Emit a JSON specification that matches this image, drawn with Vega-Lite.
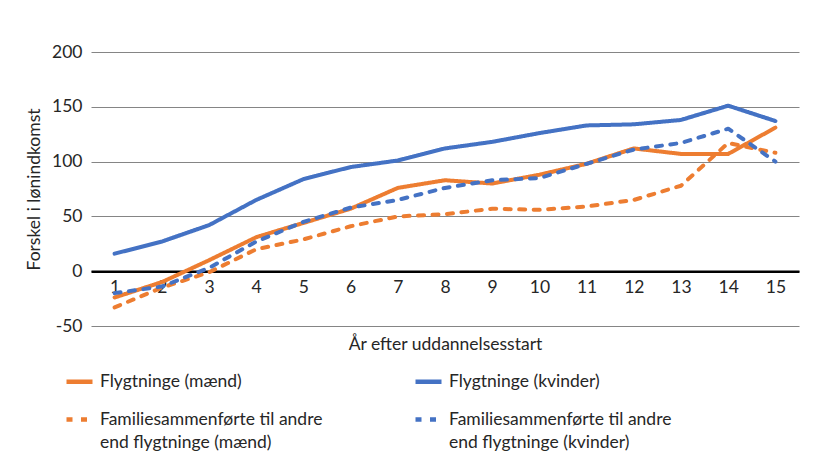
{
  "$schema": "https://vega.github.io/schema/vega-lite/v6.json",
  "autosize": "none",
  "width": 708,
  "height": 274,
  "padding": {"left": 91, "top": 52, "right": 17, "bottom": 149},
  "background": "white",
  "config": {
    "font": "Lato",
    "view": {"stroke": null},
    "style": {"guide-label": {"lineHeight": 23}}
  },
  "data": {
    "values": [
      {"year": 1, "serie": "Flygtninge (mænd)", "value": -24},
      {"year": 2, "serie": "Flygtninge (mænd)", "value": -10},
      {"year": 3, "serie": "Flygtninge (mænd)", "value": 10},
      {"year": 4, "serie": "Flygtninge (mænd)", "value": 31},
      {"year": 5, "serie": "Flygtninge (mænd)", "value": 44},
      {"year": 6, "serie": "Flygtninge (mænd)", "value": 57},
      {"year": 7, "serie": "Flygtninge (mænd)", "value": 76},
      {"year": 8, "serie": "Flygtninge (mænd)", "value": 83},
      {"year": 9, "serie": "Flygtninge (mænd)", "value": 80},
      {"year": 10, "serie": "Flygtninge (mænd)", "value": 88},
      {"year": 11, "serie": "Flygtninge (mænd)", "value": 98},
      {"year": 12, "serie": "Flygtninge (mænd)", "value": 112},
      {"year": 13, "serie": "Flygtninge (mænd)", "value": 107},
      {"year": 14, "serie": "Flygtninge (mænd)", "value": 107},
      {"year": 15, "serie": "Flygtninge (mænd)", "value": 131},
      {"year": 1, "serie": "Flygtninge (kvinder)", "value": 16},
      {"year": 2, "serie": "Flygtninge (kvinder)", "value": 27},
      {"year": 3, "serie": "Flygtninge (kvinder)", "value": 42},
      {"year": 4, "serie": "Flygtninge (kvinder)", "value": 65},
      {"year": 5, "serie": "Flygtninge (kvinder)", "value": 84},
      {"year": 6, "serie": "Flygtninge (kvinder)", "value": 95},
      {"year": 7, "serie": "Flygtninge (kvinder)", "value": 101},
      {"year": 8, "serie": "Flygtninge (kvinder)", "value": 112},
      {"year": 9, "serie": "Flygtninge (kvinder)", "value": 118},
      {"year": 10, "serie": "Flygtninge (kvinder)", "value": 126},
      {"year": 11, "serie": "Flygtninge (kvinder)", "value": 133},
      {"year": 12, "serie": "Flygtninge (kvinder)", "value": 134},
      {"year": 13, "serie": "Flygtninge (kvinder)", "value": 138},
      {"year": 14, "serie": "Flygtninge (kvinder)", "value": 151},
      {"year": 15, "serie": "Flygtninge (kvinder)", "value": 137},
      {"year": 1, "serie": "Familiesammenførte til andre|end flygtninge (mænd)", "value": -33},
      {"year": 2, "serie": "Familiesammenførte til andre|end flygtninge (mænd)", "value": -15},
      {"year": 3, "serie": "Familiesammenførte til andre|end flygtninge (mænd)", "value": -1},
      {"year": 4, "serie": "Familiesammenførte til andre|end flygtninge (mænd)", "value": 20},
      {"year": 5, "serie": "Familiesammenførte til andre|end flygtninge (mænd)", "value": 29},
      {"year": 6, "serie": "Familiesammenførte til andre|end flygtninge (mænd)", "value": 41},
      {"year": 7, "serie": "Familiesammenførte til andre|end flygtninge (mænd)", "value": 50},
      {"year": 8, "serie": "Familiesammenførte til andre|end flygtninge (mænd)", "value": 52},
      {"year": 9, "serie": "Familiesammenførte til andre|end flygtninge (mænd)", "value": 57},
      {"year": 10, "serie": "Familiesammenførte til andre|end flygtninge (mænd)", "value": 56},
      {"year": 11, "serie": "Familiesammenførte til andre|end flygtninge (mænd)", "value": 59},
      {"year": 12, "serie": "Familiesammenførte til andre|end flygtninge (mænd)", "value": 65},
      {"year": 13, "serie": "Familiesammenførte til andre|end flygtninge (mænd)", "value": 78},
      {"year": 14, "serie": "Familiesammenførte til andre|end flygtninge (mænd)", "value": 117},
      {"year": 15, "serie": "Familiesammenførte til andre|end flygtninge (mænd)", "value": 108},
      {"year": 1, "serie": "Familiesammenførte til andre|end flygtninge (kvinder)", "value": -20},
      {"year": 2, "serie": "Familiesammenførte til andre|end flygtninge (kvinder)", "value": -14},
      {"year": 3, "serie": "Familiesammenførte til andre|end flygtninge (kvinder)", "value": 3},
      {"year": 4, "serie": "Familiesammenførte til andre|end flygtninge (kvinder)", "value": 27},
      {"year": 5, "serie": "Familiesammenførte til andre|end flygtninge (kvinder)", "value": 45},
      {"year": 6, "serie": "Familiesammenførte til andre|end flygtninge (kvinder)", "value": 58},
      {"year": 7, "serie": "Familiesammenførte til andre|end flygtninge (kvinder)", "value": 65},
      {"year": 8, "serie": "Familiesammenførte til andre|end flygtninge (kvinder)", "value": 76},
      {"year": 9, "serie": "Familiesammenførte til andre|end flygtninge (kvinder)", "value": 83},
      {"year": 10, "serie": "Familiesammenførte til andre|end flygtninge (kvinder)", "value": 85},
      {"year": 11, "serie": "Familiesammenførte til andre|end flygtninge (kvinder)", "value": 98},
      {"year": 12, "serie": "Familiesammenførte til andre|end flygtninge (kvinder)", "value": 111},
      {"year": 13, "serie": "Familiesammenførte til andre|end flygtninge (kvinder)", "value": 117},
      {"year": 14, "serie": "Familiesammenførte til andre|end flygtninge (kvinder)", "value": 130},
      {"year": 15, "serie": "Familiesammenførte til andre|end flygtninge (kvinder)", "value": 100}
    ]
  },
  "mark": {"type": "line", "strokeWidth": 4, "strokeCap": "round", "strokeJoin": "round"},
  "encoding": {
    "x": {
      "field": "year",
      "type": "ordinal",
      "scale": {"paddingInner": 0, "paddingOuter": 0.5},
      "axis": {
        "title": "År efter uddannelsesstart",
        "titleFontSize": 17.5,
        "titleFontWeight": "normal",
        "titleColor": "#262626",
        "titlePadding": 40,
        "labelAngle": 0,
        "labelFontSize": 17.5,
        "labelColor": "#262626",
        "labelPadding": 7,
        "ticks": false,
        "domainColor": "black",
        "domainWidth": 2.5,
        "grid": false,
        "offset": -54.8
      }
    },
    "y": {
      "field": "value",
      "type": "quantitative",
      "scale": {"domain": [-50, 200], "nice": false, "zero": false},
      "axis": {
        "values": [-50, 0, 50, 100, 150, 200],
        "labelExpr": "replace(datum.label, '−', '-')",
        "title": "Forskel i lønindkomst",
        "titleFontSize": 17.5,
        "titleFontWeight": "normal",
        "titleColor": "#262626",
        "titlePadding": 8,
        "labelFontSize": 17.5,
        "labelColor": "#262626",
        "labelPadding": 9,
        "ticks": false,
        "domain": false,
        "gridColor": "#858585",
        "gridWidth": 1.2
      }
    },
    "color": {
      "field": "serie",
      "type": "nominal",
      "sort": null,
      "scale": {
        "domain": [
          "Flygtninge (mænd)",
          "Familiesammenførte til andre|end flygtninge (mænd)",
          "Flygtninge (kvinder)",
          "Familiesammenførte til andre|end flygtninge (kvinder)"
        ],
        "range": ["#ED7D31", "#ED7D31", "#4472C4", "#4472C4"]
      },
      "legend": {
        "title": null,
        "orient": "none",
        "legendX": -27,
        "legendY": 314,
        "columns": 2,
        "columnPadding": 83,
        "rowPadding": 13,
        "symbolType": "stroke",
        "symbolSize": 676,
        "symbolStrokeWidth": 4.5,
        "labelFontSize": 17.5,
        "labelColor": "#262626",
        "labelOffset": 5,
        "labelLimit": 400,
        "labelExpr": "split(datum.label, '|')"
      }
    },
    "strokeDash": {
      "field": "serie",
      "type": "nominal",
      "sort": null,
      "scale": {
        "domain": [
          "Flygtninge (mænd)",
          "Familiesammenførte til andre|end flygtninge (mænd)",
          "Flygtninge (kvinder)",
          "Familiesammenførte til andre|end flygtninge (kvinder)"
        ],
        "range": [[1, 0], [6, 8.5], [1, 0], [6, 8.5]]
      },
      "legend": {
        "title": null,
        "orient": "none",
        "legendX": -27,
        "legendY": 314,
        "columns": 2,
        "columnPadding": 83,
        "rowPadding": 13,
        "symbolType": "stroke",
        "symbolSize": 676,
        "symbolStrokeWidth": 4.5,
        "labelFontSize": 17.5,
        "labelColor": "#262626",
        "labelOffset": 5,
        "labelLimit": 400,
        "labelExpr": "split(datum.label, '|')"
      }
    }
  }
}
